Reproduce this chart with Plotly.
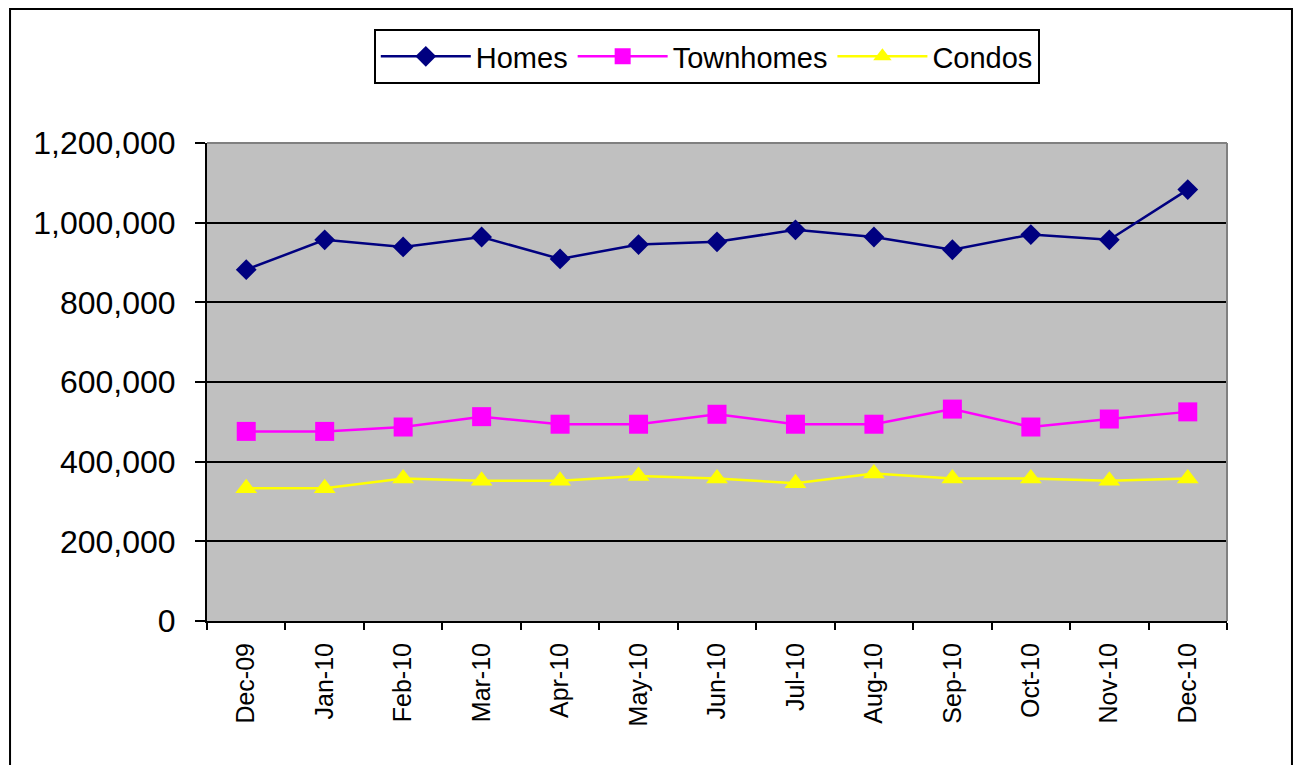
import plotly.graph_objects as go

months = ["Dec-09", "Jan-10", "Feb-10", "Mar-10", "Apr-10", "May-10", "Jun-10",
          "Jul-10", "Aug-10", "Sep-10", "Oct-10", "Nov-10", "Dec-10"]
homes = [882000, 957000, 939000, 964000, 909000, 945000, 952000,
         982000, 964000, 932000, 970000, 957000, 1083000]
townhomes = [476000, 476000, 487000, 513000, 494000, 494000, 519000,
             494000, 494000, 532000, 487000, 507000, 525000]
condos = [333000, 333000, 358000, 352000, 352000, 364000, 358000,
          346000, 370000, 358000, 358000, 352000, 358000]
y_ticks = [0, 200000, 400000, 600000, 800000, 1000000, 1200000]

FONT = "Liberation Sans, Arial, sans-serif"

fig = go.Figure()
fig.add_trace(go.Scatter(
    x=months, y=homes, name="Homes", mode="lines+markers",
    line=dict(color="#000080", width=2.5),
    marker=dict(symbol="diamond", size=16, color="#000080"),
))
fig.add_trace(go.Scatter(
    x=months, y=townhomes, name="Townhomes", mode="lines+markers",
    line=dict(color="#FF00FF", width=2.5),
    marker=dict(symbol="square", size=19, color="#FF00FF"),
))
fig.add_trace(go.Scatter(
    x=months, y=condos, name="Condos", mode="lines+markers",
    line=dict(color="#FFFF00", width=2.5),
    marker=dict(symbol="triangle-up", size=19, color="#FFFF00"),
))

# outer chart frame
fig.add_shape(type="rect", xref="paper", yref="paper",
              x0=-0.1931, x1=1.0637, y0=-0.4, y1=1.2803,
              line=dict(color="black", width=2), layer="below")
# grey top and right edges of the plot area
fig.add_shape(type="line", xref="paper", yref="paper", x0=0, x1=1, y0=1, y1=1,
              line=dict(color="#808080", width=2), layer="above")
fig.add_shape(type="line", xref="paper", yref="paper", x0=1, x1=1, y0=0, y1=1,
              line=dict(color="#808080", width=2), layer="above")

fig.update_layout(
    width=1294, height=765, autosize=False,
    margin=dict(l=207, r=67, t=143, b=144),
    paper_bgcolor="white", plot_bgcolor="#C0C0C0",
    font=dict(family=FONT, color="black"),
    showlegend=True,
    legend=dict(
        orientation="h", x=0.49, xanchor="center", y=1.2385, yanchor="top",
        bgcolor="white", bordercolor="black", borderwidth=2,
        font=dict(size=29, family=FONT, color="black"),
        itemwidth=90,
    ),
    xaxis=dict(
        type="category", range=[-0.5, 12.5],
        tickson="boundaries", ticks="outside", ticklen=7, tickwidth=2, tickcolor="black",
        showline=True, linecolor="black", linewidth=2,
        showgrid=False, tickangle=-90,
        tickfont=dict(size=25, family=FONT, color="black"),
        ticklabelstandoff=10,
    ),
    yaxis=dict(
        range=[0, 1200000], tickvals=y_ticks, tickformat=",d",
        ticks="outside", ticklen=10, tickwidth=2, tickcolor="black",
        showline=True, linecolor="black", linewidth=2,
        showgrid=True, gridcolor="black", gridwidth=2, zeroline=False,
        tickfont=dict(size=32, family=FONT, color="black"),
        ticklabelstandoff=13,
    ),
)

fig.write_html("out.html")
